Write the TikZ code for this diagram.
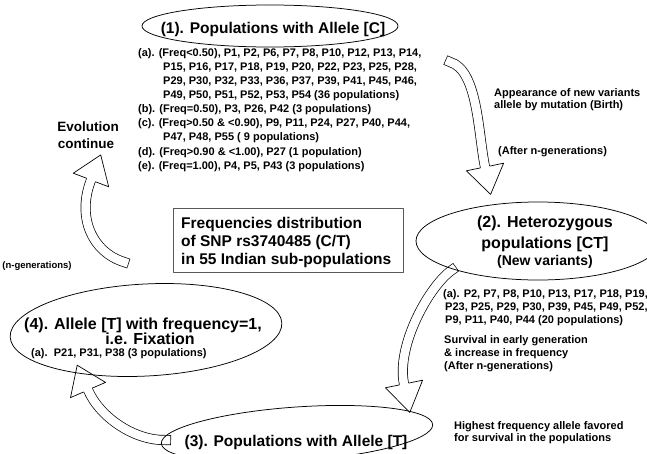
\documentclass[tikz,border=0pt]{standalone}
\usepackage{fontspec}
\setmainfont{Liberation Sans}
\usetikzlibrary{shapes.geometric}
\begin{document}
\begin{tikzpicture}[x=1pt,y=-1pt,line join=round,
  ellbox/.style={draw=black, ellipse, line width=0.75pt, inner sep=0pt},
  ttl/.style={inner sep=0pt, anchor=base, font=\fontsize{15.5}{18}\selectfont\bfseries},
  ttlb/.style={inner sep=0pt, anchor=base, font=\fontsize{16}{18}\selectfont\bfseries},
  sml/.style={inner sep=0pt, anchor=base west, font=\fontsize{11}{13}\selectfont\bfseries},
  midtxt/.style={inner sep=0pt, anchor=base, font=\fontsize{13.5}{16}\selectfont\bfseries},
  boxtxt/.style={inner sep=0pt, anchor=base west, font=\fontsize{15.5}{18}\selectfont\bfseries},
  tinytxt/.style={inner sep=0pt, anchor=base, font=\fontsize{9.5}{11}\selectfont\bfseries},
  shaft/.style={draw=black, line width=0.7pt, double=white, double distance=8.6pt, line cap=rect},
  headline/.style={draw=black, line width=0.7pt},
  boxline/.style={draw=black!65, line width=0.9pt, inner sep=0pt}
]
\useasboundingbox (0,0) rectangle (647,453);
\clip (0,0) rectangle (647,453);

% ---------- block arrows ----------
% (1) -> (2)
\coordinate (aT) at (450,62);
\coordinate (aB) at (485,167);
\draw[shaft] (aT) .. controls (478,70) and (478,133) .. (aB);
\fill[white] (503.6,163.2) -- (490.6,194.4) -- (466.4,170.8) -- cycle;
\draw[headline] (489.6,166.1) -- (503.6,163.2) -- (490.6,194.4) -- (466.4,170.8) -- (480.4,167.9);

% (2) -> (3)
\coordinate (bT) at (452,270);
\coordinate (bB) at (404,384);
\draw[shaft] (bT) .. controls (430,285) and (396,344.8) .. (bB);
\fill[white] (422.6,380.2) -- (409.8,412.4) -- (385.4,387.8) -- cycle;
\draw[headline] (408.6,383.1) -- (422.6,380.2) -- (409.8,412.4) -- (385.4,387.8) -- (399.4,384.9);

% (3) -> (4)
\coordinate (cT) at (166,440);
\coordinate (cB) at (88,390);
\draw[shaft] (cT) .. controls (135,441) and (100,417.6) .. (cB);
\fill[white] (105.5,382.4) -- (77.2,365.2) -- (70.5,397.6) -- cycle;
\draw[headline] (92.3,388.1) -- (105.5,382.4) -- (77.2,365.2) -- (70.5,397.6) -- (83.7,391.9);

% evolution continue
\coordinate (dT) at (124,262);
\coordinate (dB) at (91,180);
\draw[shaft] (dT) .. controls (92,252) and (76.6,217.2) .. (dB);
\fill[white] (108.7,186.8) -- (100.7,154.9) -- (73.3,173.2) -- cycle;
\draw[headline] (95.3,181.7) -- (108.7,186.8) -- (100.7,154.9) -- (73.3,173.2) -- (86.7,178.3);

% ---------- ellipses ----------
\node[ellbox, minimum width=256pt, minimum height=42pt] (e1) at (270,26) {};
\node[ellbox, minimum width=244pt, minimum height=78pt] (e2) at (538,241) {};
\node[ellbox, minimum width=272pt, minimum height=54pt, rotate=4] (e3) at (297,434) {};
\node[ellbox, minimum width=272pt, minimum height=92pt, rotate=3] (e4) at (146,330) {};

% ---------- (1) ----------
\node[ttl] (t1) at (273,33) {(1). Populations with Allele [C]};
\node[sml] (l1a) at (138,56) {(a). (Freq<0.50), P1, P2, P6, P7, P8, P10, P12, P13, P14,};
\node[sml] (l1b) at (163,70) {P15, P16, P17, P18, P19, P20, P22, P23, P25, P28,};
\node[sml] (l1c) at (163,84) {P29, P30, P32, P33, P36, P37, P39, P41, P45, P46,};
\node[sml] (l1d) at (163,98) {P49, P50, P51, P52, P53, P54 (36 populations)};
\node[sml] (l1e) at (138,112) {(b). (Freq=0.50), P3, P26, P42 (3 populations)};
\node[sml] (l1f) at (138,126) {(c). (Freq>0.50 \& <0.90), P9, P11, P24, P27, P40, P44,};
\node[sml] (l1g) at (163,140) {P47, P48, P55 ( 9 populations)};
\node[sml] (l1h) at (138,155) {(d). (Freq>0.90 \& <1.00), P27 (1 population)};
\node[sml] (l1i) at (138,169) {(e). (Freq=1.00), P4, P5, P43 (3 populations)};

% ---------- left side ----------
\node[midtxt] (ev1) at (88,131) {Evolution};
\node[midtxt] (ev2) at (86,148) {continue};
\node[tinytxt] (ngen) at (37,268) {(n-generations)};

% ---------- central box ----------
\node[boxline, draw, minimum width=230pt, minimum height=64pt] (box) at (288,240) {};
\node[boxtxt] (bx1) at (181,228) {Frequencies distribution};
\node[boxtxt] (bx2) at (181,246) {of SNP rs3740485 (C/T)};
\node[boxtxt] (bx3) at (181,264) {in 55 Indian sub-populations};

% ---------- top right ----------
\node[sml] (ap1) at (494,96) {Appearance of new variants};
\node[sml] (ap2) at (494,108) {allele by mutation (Birth)};
\node[sml] (ap3) at (498,154) {(After n-generations)};

% ---------- (2) ----------
\node[ttlb] (t2a) at (545,227) {(2). Heterozygous};
\node[ttlb] (t2b) at (545,248) {populations [CT]};
\node[inner sep=0pt, anchor=base, font=\fontsize{14}{16}\selectfont\bfseries] (t2c) at (545,265) {(New variants)};
\node[sml] (l2a) at (443,297) {(a). P2, P7, P8, P10, P13, P17, P18, P19,};
\node[sml] (l2b) at (445,310) {P23, P25, P29, P30, P39, P45, P49, P52,};
\node[sml] (l2c) at (445,323) {P9, P11, P40, P44 (20 populations)};
\node[sml] (s1) at (444,343) {Survival in early generation};
\node[sml] (s2) at (444,356) {\& increase in frequency};
\node[sml] (s3) at (444,369) {(After n-generations)};

% ---------- (3) ----------
\node[ttl] (t3) at (296,446) {(3). Populations with Allele [T]};
\node[sml] (h1) at (454,429) {Highest frequency allele favored};
\node[sml] (h2) at (454,441) {for survival in the populations};

% ---------- (4) ----------
\node[ttlb] (t4a) at (143,329) {(4). Allele [T] with frequency=1,};
\node[ttlb] (t4b) at (150,344) {i.e. Fixation};
\node[sml] (l4a) at (31,356) {(a).\ \ P21, P31, P38 (3 populations)};
\end{tikzpicture}
\end{document}
